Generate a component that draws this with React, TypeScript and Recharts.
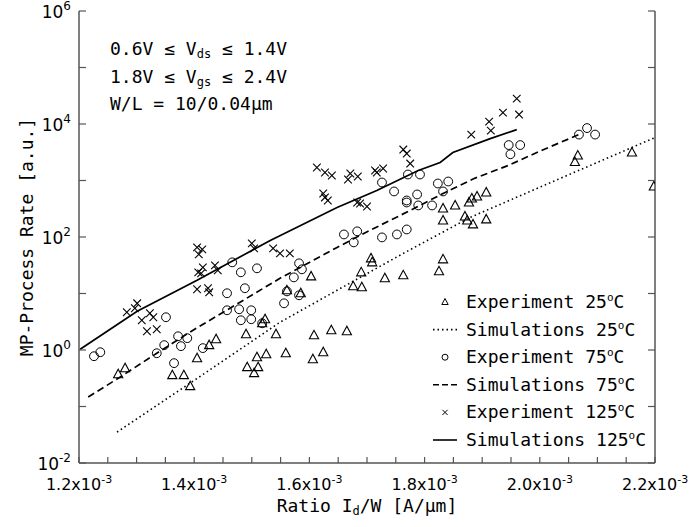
import { ComposedChart, Scatter, Line, XAxis, YAxis } from 'recharts';

// x values are I_d/W in units of 1e-3 A/um, y values in a.u.
const xTicks = [1.2, 1.25, 1.3, 1.35, 1.4, 1.45, 1.5, 1.55, 1.6, 1.65, 1.7, 1.75, 1.8, 1.85, 1.9, 1.95, 2.0, 2.05, 2.1, 2.15, 2.2];
const xLabeled = [1.2, 1.4, 1.6, 1.8, 2.0, 2.2];
const yTicks = [1e-2, 1e-1, 1, 1e1, 1e2, 1e3, 1e4, 1e5, 1e6];
const yLabeledExp = [-2, 0, 2, 4, 6];

const exp25: [number, number][] = [
  [1.268, 0.373], [1.280, 0.476], [1.362, 0.359], [1.382, 0.359], [1.393, 0.229], [1.405, 0.716], [1.426, 1.22], [1.438, 1.55],
  [1.490, 1.90], [1.492, 0.497], [1.504, 0.389], [1.511, 0.497], [1.509, 0.746], [1.525, 0.843], [1.518, 2.97], [1.523, 3.50],
  [1.542, 1.90], [1.559, 0.877], [1.561, 11.4], [1.585, 10.1], [1.603, 20.1], [1.608, 1.82], [1.606, 0.687], [1.624, 0.914],
  [1.638, 2.24], [1.665, 2.15], [1.676, 13.4], [1.690, 23.7], [1.691, 12.9], [1.707, 41.9], [1.709, 35.6], [1.731, 18.6],
  [1.763, 21.0], [1.825, 24.7], [1.832, 40.2], [1.832, 320], [1.832, 196], [1.853, 362], [1.870, 231], [1.874, 196],
  [1.877, 408], [1.882, 481], [1.891, 521], [1.907, 614], [1.884, 167], [1.907, 205],
  [2.061, 2120], [2.066, 2765], [2.160, 3125], [2.198, 783],
];

const exp75: [number, number][] = [
  [1.226, 0.776], [1.237, 0.914], [1.351, 3.80], [1.335, 0.877], [1.348, 1.22], [1.372, 1.75], [1.377, 1.17], [1.388, 1.62],
  [1.365, 0.585], [1.415, 1.08], [1.457, 10.1], [1.457, 5.05], [1.478, 5.26], [1.481, 3.36], [1.466, 35.6], [1.481, 23.7],
  [1.509, 27.9], [1.488, 12.4], [1.499, 5.05], [1.499, 3.50], [1.518, 2.97], [1.556, 6.71], [1.561, 10.9], [1.573, 19.3],
  [1.582, 34.2], [1.587, 26.8], [1.582, 9.29], [1.660, 111], [1.683, 126], [1.677, 80.3], [1.726, 98.4], [1.752, 111],
  [1.769, 136], [1.726, 922], [1.747, 640], [1.771, 1277], [1.792, 1277], [1.769, 443], [1.769, 408], [1.787, 566],
  [1.789, 362], [1.813, 362], [1.823, 885], [1.841, 960], [1.832, 640],
  [1.946, 4240], [1.966, 4240], [1.949, 2915], [2.068, 6500], [2.082, 8470], [2.096, 6500],
];

const exp125: [number, number][] = [
  [1.283, 4.66], [1.301, 6.71], [1.297, 5.48], [1.309, 3.36], [1.323, 4.47], [1.329, 3.80], [1.318, 2.15], [1.335, 2.33],
  [1.405, 65.5], [1.414, 60.4], [1.408, 49.3], [1.407, 23.7], [1.415, 29.0], [1.436, 31.5], [1.441, 25.7], [1.412, 22.7],
  [1.405, 11.9], [1.424, 12.4], [1.426, 10.5], [1.500, 77.1], [1.504, 62.9], [1.537, 62.9], [1.549, 51.3], [1.566, 51.3],
  [1.613, 1700], [1.627, 1385], [1.639, 1225], [1.671, 1330], [1.667, 1042], [1.684, 1177], [1.714, 1503], [1.717, 1385],
  [1.728, 1630], [1.763, 3530], [1.769, 3000], [1.775, 1995], [1.624, 589], [1.627, 501], [1.632, 443], [1.683, 408],
  [1.688, 392], [1.700, 347], [1.881, 6500], [1.912, 11000], [1.915, 7650], [1.936, 15900], [1.960, 28100], [1.964, 14700],
];

const sim25: [number, number][] = [
  [1.266, 0.0353], [1.393, 0.259], [1.549, 3.10], [1.648, 11.4], [1.763, 51.3], [1.879, 222], [2.035, 1085], [2.2, 5750],
];
const sim75: [number, number][] = [
  [1.216, 0.147], [1.271, 0.330], [1.335, 0.877], [1.398, 2.24], [1.462, 5.48], [1.549, 18.6], [1.648, 65.5],
  [1.705, 131], [1.775, 295], [1.832, 590], [1.886, 1085], [1.945, 1840], [2.004, 3440], [2.068, 6500],
];
const sim125: [number, number][] = [
  [1.202, 1.03], [1.301, 4.85], [1.405, 17.1], [1.532, 87], [1.648, 333], [1.717, 666], [1.789, 1500],
  [1.827, 2080], [1.849, 3130], [1.914, 5520], [1.960, 7960],
];

const toRows = (pts: [number, number][]) => pts.map(([x, y]) => ({ x, y }));

const AXIS = '#555';
const MONO = '"DejaVu Sans Mono", monospace';
const SANS = '"DejaVu Sans", sans-serif';

const Tri = ({ cx, cy }: any) => (
  <polygon points={`${cx},${cy - 5} ${cx - 4.6},${cy + 3.5} ${cx + 4.6},${cy + 3.5}`} fill="none" stroke="#000" strokeWidth={1.1} />
);
const Circ = ({ cx, cy }: any) => (
  <circle cx={cx} cy={cy} r={4.4} fill="none" stroke="#000" strokeWidth={1} />
);
const Cross = ({ cx, cy }: any) => (
  <g stroke="#000" strokeWidth={1.1}>
    <line x1={cx - 3.8} y1={cy - 3.8} x2={cx + 3.8} y2={cy + 3.8} />
    <line x1={cx - 3.8} y1={cy + 3.8} x2={cx + 3.8} y2={cy - 3.8} />
  </g>
);

const near = (a: number, b: number) => Math.abs(a - b) < 1e-6;

function BottomTick({ x, y, payload }: any) {
  const v = payload.value as number;
  const labeled = xLabeled.some(l => near(l, v));
  return (
    <g>
      <line x1={x} x2={x} y1={y} y2={y - 6} stroke={AXIS} strokeWidth={1.2} />
      {labeled && (
        <text x={x} y={y + 27} textAnchor="middle" fontFamily={SANS} fontSize={16} fill="#000">
          {v.toFixed(1)}x10<tspan dy={-7} fontSize={11}>-3</tspan>
        </text>
      )}
    </g>
  );
}

function TopTick({ x, y }: any) {
  return <line x1={x} x2={x} y1={y} y2={y + 6} stroke={AXIS} strokeWidth={1.2} />;
}

function LeftTick({ x, y, payload }: any) {
  const e = Math.round(Math.log10(payload.value));
  return (
    <g>
      <line x1={x} x2={x + 7} y1={y} y2={y} stroke={AXIS} strokeWidth={1.2} />
      {yLabeledExp.includes(e) && (
        <text x={x - 8} y={y + 7} textAnchor="end" fontFamily={SANS} fontSize={17} fill="#000">
          10<tspan dy={-8} fontSize={12}>{e}</tspan>
        </text>
      )}
    </g>
  );
}

function RightTick({ x, y }: any) {
  return <line x1={x} x2={x - 7} y1={y} y2={y} stroke={AXIS} strokeWidth={1.2} />;
}

const legendItems = [
  { label: '25', kind: 'tri' },
  { label: '25', kind: 'dot' },
  { label: '75', kind: 'circ' },
  { label: '75', kind: 'dash' },
  { label: '125', kind: 'cross' },
  { label: '125', kind: 'solid' },
];

function LegendSymbol({ kind, y }: { kind: string; y: number }) {
  const cx = 445;
  if (kind === 'tri') return <polygon points={`${cx},${y - 3.5} ${cx - 3.2},${y + 2.5} ${cx + 3.2},${y + 2.5}`} fill="none" stroke="#000" strokeWidth={1} />;
  if (kind === 'circ') return <circle cx={cx} cy={y} r={3} fill="none" stroke="#000" strokeWidth={1} />;
  if (kind === 'cross') return (
    <g stroke="#000" strokeWidth={1}>
      <line x1={cx - 2.6} y1={y - 2.6} x2={cx + 2.6} y2={y + 2.6} />
      <line x1={cx - 2.6} y1={y + 2.6} x2={cx + 2.6} y2={y - 2.6} />
    </g>
  );
  const dash = kind === 'dot' ? '1.5 3' : kind === 'dash' ? '6 3' : undefined;
  return <line x1={433} x2={457} y1={y} y2={y} stroke="#000" strokeWidth={1.6} strokeDasharray={dash} />;
}

export default function App() {
  return (
    <div style={{ position: 'absolute', left: 0, top: 0, width: 691, height: 527, background: '#fff' }}>
      <ComposedChart width={691} height={527} margin={{ top: 11, right: 0, bottom: 0, left: 0 }}>
        <XAxis
          xAxisId={0}
          dataKey="x"
          type="number"
          domain={[1.2, 2.2]}
          ticks={xTicks}
          allowDataOverflow
          height={64}
          tickSize={0}
          tickMargin={0}
          tickLine={false}
          tick={<BottomTick />}
          axisLine={{ stroke: AXIS, strokeWidth: 1.5 }}
          interval={0}
        />
        <XAxis
          xAxisId="top"
          orientation="top"
          dataKey="x"
          type="number"
          domain={[1.2, 2.2]}
          ticks={xTicks}
          allowDataOverflow
          height={0}
          tickSize={0}
          tickMargin={0}
          tickLine={false}
          tick={<TopTick />}
          axisLine={{ stroke: AXIS, strokeWidth: 1.5 }}
          interval={0}
        />
        <YAxis
          yAxisId={0}
          dataKey="y"
          type="number"
          scale="log"
          domain={[1e-2, 1e6]}
          ticks={yTicks}
          allowDataOverflow
          width={79}
          tickSize={0}
          tickMargin={0}
          tickLine={false}
          tick={<LeftTick />}
          axisLine={{ stroke: AXIS, strokeWidth: 1.5 }}
          interval={0}
        />
        <YAxis
          yAxisId="right"
          orientation="right"
          dataKey="y"
          type="number"
          scale="log"
          domain={[1e-2, 1e6]}
          ticks={yTicks}
          allowDataOverflow
          width={36}
          tickSize={0}
          tickMargin={0}
          tickLine={false}
          tick={<RightTick />}
          axisLine={{ stroke: AXIS, strokeWidth: 1.5 }}
          interval={0}
        />

        <Line data={toRows(sim25)} dataKey="y" type="linear" stroke="#000" strokeWidth={1.6} strokeDasharray="1.5 3" dot={false} isAnimationActive={false} />
        <Line data={toRows(sim75)} dataKey="y" type="linear" stroke="#000" strokeWidth={1.7} strokeDasharray="7 4" dot={false} isAnimationActive={false} />
        <Line data={toRows(sim125)} dataKey="y" type="linear" stroke="#000" strokeWidth={1.7} dot={false} isAnimationActive={false} />

        <Scatter data={toRows(exp25)} dataKey="y" shape={<Tri />} isAnimationActive={false} />
        <Scatter data={toRows(exp75)} dataKey="y" shape={<Circ />} isAnimationActive={false} />
        <Scatter data={toRows(exp125)} dataKey="y" shape={<Cross />} isAnimationActive={false} />
      </ComposedChart>

      <svg width={691} height={527} style={{ position: 'absolute', left: 0, top: 0, pointerEvents: 'none' }}>
        <g fontFamily={MONO} fontSize={18} fill="#000">
          <text x={110} y={55}>
            0.6V ≤ V<tspan fontSize={12} dy={3}>ds</tspan><tspan dy={-3}> ≤ 1.4V</tspan>
          </text>
          <text x={110} y={83}>
            1.8V ≤ V<tspan fontSize={12} dy={3}>gs</tspan><tspan dy={-3}> ≤ 2.4V</tspan>
          </text>
          <text x={110} y={110}>W/L = 10/0.04μm</text>

          <text x={367} y={512} textAnchor="middle">
            Ratio I<tspan fontSize={12} dy={3}>d</tspan><tspan dy={-3}>/W [A/μm]</tspan>
          </text>
          <text transform="translate(33,237) rotate(-90)" textAnchor="middle">MP-Process Rate [a.u.]</text>

          {legendItems.map((it, i) => {
            const cy = 302 + i * 27.6;
            const word = it.kind === 'tri' || it.kind === 'circ' || it.kind === 'cross' ? 'Experiment' : 'Simulations';
            return (
              <g key={i}>
                <LegendSymbol kind={it.kind} y={cy} />
                <text x={466} y={cy + 6}>
                  {word} {it.label}<tspan fontSize={11} dy={-7}>o</tspan><tspan dy={7}>C</tspan>
                </text>
              </g>
            );
          })}
        </g>
      </svg>
    </div>
  );
}
